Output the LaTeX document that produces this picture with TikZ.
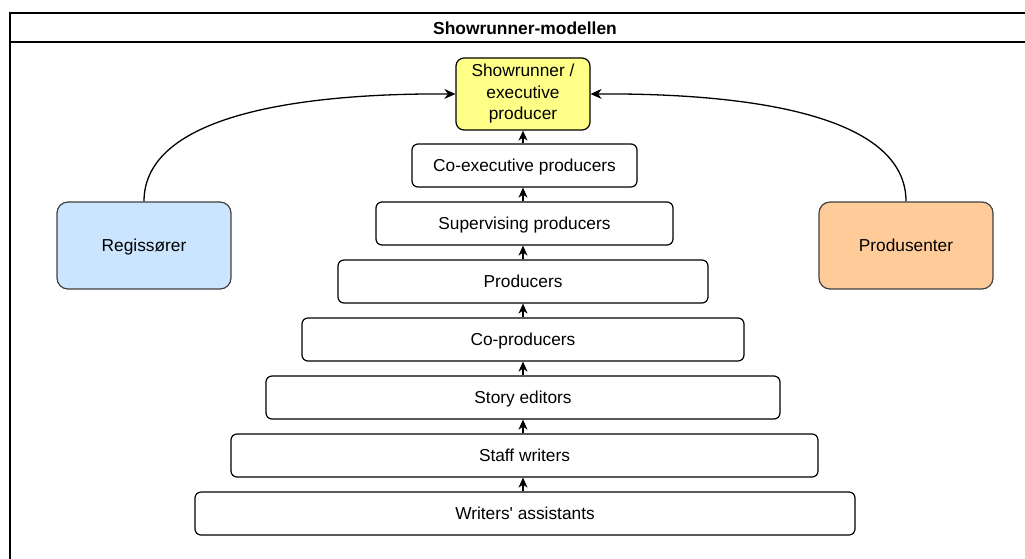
\documentclass[tikz,border=0pt]{standalone}
\usepackage{fontspec}
\setmainfont{Liberation Sans}
\usetikzlibrary{arrows.meta}
\definecolor{yel}{HTML}{FFFF88}
\definecolor{blu}{HTML}{CCE5FF}
\definecolor{ora}{HTML}{FFCC99}
\begin{document}
\begin{tikzpicture}[x=1pt,y=-1pt,
  box/.style={draw=black,line width=1.2pt,rounded corners=6pt,fill=white,inner sep=0pt,font=\fontsize{17.3}{21}\selectfont},
  lvl/.style={box,text depth=0pt},
  side/.style={draw=black!75,line width=1.2pt,rounded corners=11pt,inner sep=0pt,text depth=0pt,font=\fontsize{17.3}{21}\selectfont},
  up/.style={-{Stealth[length=10pt,width=9pt,inset=3pt]},line width=1.3pt},
  curv/.style={-{Stealth[length=11pt,width=10pt,inset=3.5pt]},line width=1.3pt}]
\useasboundingbox (0,0) rectangle (1025,558);
\begin{scope}
\clip (0,0) rectangle (1025,558);
\draw[line width=1.4pt] (10,13) rectangle (1060,600);
\draw[line width=1.4pt] (10,42) -- (1060,42);
\end{scope}
\node[font=\bfseries\fontsize{17.4}{20}\selectfont,text depth=0pt] (title) at (525,28) {Showrunner-modellen};

\node[box,fill=yel,rounded corners=8pt,minimum width=134pt,minimum height=72pt,align=center,font=\fontsize{17.3}{21.5}\selectfont] (sr) at (523,94) {Showrunner /\\executive\\producer};
\node[lvl,minimum width=225pt,minimum height=43pt] (ce) at (524.5,165.5) {Co-executive producers};
\node[lvl,minimum width=297pt,minimum height=43pt] (sp) at (524.5,223.5) {Supervising producers};
\node[lvl,minimum width=370pt,minimum height=43pt] (pr) at (523,281.5) {Producers};
\node[lvl,minimum width=442pt,minimum height=43pt] (cp) at (523,339.5) {Co-producers};
\node[lvl,minimum width=514pt,minimum height=43pt] (se) at (523,397.5) {Story editors};
\node[lvl,minimum width=587pt,minimum height=43pt] (sw) at (524.5,455.5) {Staff writers};
\node[lvl,minimum width=660pt,minimum height=43pt] (wa) at (525,513.5) {Writers\textquotesingle\ assistants};

\node[side,fill=blu,minimum width=174pt,minimum height=87pt] (reg) at (144,245.5) {Regissører};
\node[side,fill=ora,minimum width=174pt,minimum height=87pt] (pro) at (906,245.5) {Produsenter};

\foreach \a/\b in {wa/sw,sw/se,se/cp,cp/pr,pr/sp,sp/ce,ce/sr}
  \draw[up] (\a.north -| 523,0) -- (\b.south -| 523,0);

\draw[curv] (reg.north) .. controls (144,115) and (300,93) .. (sr.west);
\draw[curv] (pro.north) .. controls (906,115) and (750,93) .. (sr.east);
\end{tikzpicture}
\end{document}
